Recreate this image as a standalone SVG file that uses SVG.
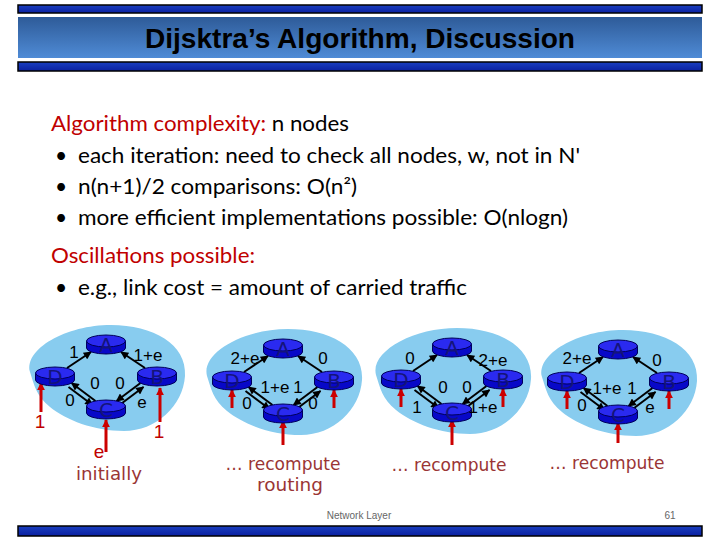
<svg xmlns="http://www.w3.org/2000/svg" xmlns:xlink="http://www.w3.org/1999/xlink" width="720" height="540" viewBox="0 0 720 540">
<style>
.body{font-family:Lato,"Open Sans","Liberation Sans",sans-serif;font-size:21px;fill:#000}
.red{fill:#c00000}
.title{font-family:"Liberation Sans",Arial,sans-serif;font-weight:bold;font-size:28px;fill:#000}
.lbl{font-family:"Liberation Sans",Arial,sans-serif;font-size:17px;fill:#000;text-anchor:middle}
.nl{font-family:"DejaVu Sans",sans-serif;font-size:20px;fill:#14147a;text-anchor:middle}
.cap{font-family:"DejaVu Sans",sans-serif;font-size:18px;fill:#9a3535;text-anchor:middle}
.rl{font-family:"Liberation Sans",Arial,sans-serif;font-size:19px;fill:#c00000;text-anchor:middle}
.edge{stroke:#000;stroke-width:2;fill:none;marker-end:url(#ah)}
.red-arr{stroke:#cc0000;stroke-width:3;fill:none;marker-end:url(#rah)}
.blob{fill:#88ccef}
.foot{font-family:"Liberation Sans",Arial,sans-serif;font-size:10px;fill:#666}
</style>
<defs>
<linearGradient id="tg" x1="0" y1="0" x2="0" y2="1">
<stop offset="0" stop-color="#2e5b98"/>
<stop offset="1" stop-color="#4f8bd6"/>
</linearGradient>
<linearGradient id="bar" x1="0" y1="0" x2="0" y2="1">
<stop offset="0" stop-color="#1a3fc0"/>
<stop offset="1" stop-color="#0a20a0"/>
</linearGradient>
<marker id="ah" viewBox="0 0 10 10" refX="9" refY="5" markerUnits="userSpaceOnUse" markerWidth="9" markerHeight="8" orient="auto">
<path d="M0,0 L10,5 L0,10 Z" fill="#000"/>
</marker>
<marker id="rah" viewBox="0 0 10 10" refX="9" refY="5" markerUnits="userSpaceOnUse" markerWidth="8" markerHeight="8" orient="auto">
<path d="M0,0 L10,5 L0,10 Z" fill="#cc0000"/>
</marker>
<g id="router">
<path d="M-19.5,-3 V4 A19.5,6 0 0 0 19.5,4 V-3 Z" fill="#0808c8" stroke="#00005a" stroke-width="1"/>
<ellipse cx="0" cy="-3" rx="19.5" ry="6" fill="#2a2af0" stroke="#00005a" stroke-width="1"/>
</g>
<path id="blobshape" d="M-76,28 C-82,5 -40,-19 5,-19 C47,-19 81,0 79,32 C77,62 50,87 18,87 C-12,87 -40,76 -56,63 C-70,52 -72,40 -76,28 Z"/>
<g id="edges">
<line x1="-39" y1="24" x2="-15" y2="8"/>
<line x1="39" y1="24" x2="15" y2="8"/>
<line x1="-10.5" y1="57" x2="-34.5" y2="39"/>
<line x1="-37.5" y1="43" x2="-13.5" y2="61"/>
<line x1="34.5" y1="39" x2="10.5" y2="57"/>
<line x1="13.5" y1="61" x2="37.5" y2="43"/>
</g>
</defs>

<g id="header">
<rect x="18" y="5" width="684" height="8" fill="url(#bar)" stroke="#000" stroke-width="1.5"/>
<rect x="18" y="17" width="684" height="41" fill="url(#tg)"/>
<rect x="18" y="62" width="684" height="9" fill="url(#bar)" stroke="#000" stroke-width="1.5"/>
<text class="title" x="360" y="48" text-anchor="middle" textLength="430" lengthAdjust="spacingAndGlyphs">Dijsktra’s Algorithm, Discussion</text>
</g>

<g id="bodytext">
<text class="body" x="51" y="131" textLength="298" lengthAdjust="spacingAndGlyphs"><tspan class="red">Algorithm complexity:</tspan> n nodes</text>
<text class="body" x="55" y="163">•</text>
<text class="body" x="78" y="163" textLength="502" lengthAdjust="spacingAndGlyphs">each iteration: need to check all nodes, w, not in N'</text>
<text class="body" x="55" y="194">•</text>
<text class="body" x="78" y="194" textLength="279" lengthAdjust="spacingAndGlyphs">n(n+1)/2 comparisons: O(n²)</text>
<text class="body" x="55" y="225">•</text>
<text class="body" x="78" y="225" textLength="490" lengthAdjust="spacingAndGlyphs">more efficient implementations possible: O(nlogn)</text>
<text class="body red" x="51" y="263" textLength="204" lengthAdjust="spacingAndGlyphs">Oscillations possible:</text>
<text class="body" x="55" y="295">•</text>
<text class="body" x="78" y="295" textLength="389" lengthAdjust="spacingAndGlyphs">e.g., link cost = amount of carried traffic</text>
</g>

<!-- Graph 1 -->
<g id="graph1" transform="translate(106,344)">
<use href="#blobshape" class="blob"/>
<g id="g1-connectors">
<use href="#edges" class="edge"/>
<line class="red-arr" x1="-65" y1="68" x2="-65" y2="39"/>
<line class="red-arr" x1="54" y1="78" x2="54" y2="44"/>
<line class="red-arr" x1="0" y1="108" x2="0" y2="76"/>
</g>
<g id="g1-A"><use href="#router"/><text class="nl" y="8">A</text></g>
<g id="g1-D" transform="translate(-51,32)"><use href="#router"/><text class="nl" y="8">D</text></g>
<g id="g1-B" transform="translate(51,32)"><use href="#router"/><text class="nl" y="8">B</text></g>
<g id="g1-C" transform="translate(0,65)"><use href="#router"/><text class="nl" y="8">C</text></g>
<g id="g1-labels">
<text class="lbl" x="-32" y="14">1</text>
<text class="lbl" x="42" y="17">1+e</text>
<text class="lbl" x="-11" y="45">0</text>
<text class="lbl" x="14" y="45">0</text>
<text class="lbl" x="-36" y="62">0</text>
<text class="lbl" x="36" y="64">e</text>
<text class="rl" x="-66" y="84">1</text>
<text class="rl" x="53" y="94">1</text>
<text class="rl" x="-7" y="114">e</text>
</g>
</g>
<text class="cap" x="109" y="480" textLength="66" lengthAdjust="spacingAndGlyphs">initially</text>

<!-- Graph 2 -->
<g id="graph2" transform="translate(283,348)">
<use href="#blobshape" class="blob"/>
<g id="g2-connectors">
<use href="#edges" class="edge"/>
<line class="red-arr" x1="-51" y1="60" x2="-51" y2="42"/>
<line class="red-arr" x1="51" y1="60" x2="51" y2="42"/>
<line class="red-arr" x1="0" y1="97" x2="0" y2="73"/>
</g>
<g id="g2-A"><use href="#router"/><text class="nl" y="8">A</text></g>
<g id="g2-D" transform="translate(-51,32)"><use href="#router"/><text class="nl" y="8">D</text></g>
<g id="g2-B" transform="translate(51,32)"><use href="#router"/><text class="nl" y="8">B</text></g>
<g id="g2-C" transform="translate(0,65)"><use href="#router"/><text class="nl" y="8">C</text></g>
<g id="g2-labels">
<text class="lbl" x="-38" y="16">2+e</text>
<text class="lbl" x="40" y="16">0</text>
<text class="lbl" x="-8" y="45">1+e</text>
<text class="lbl" x="15" y="45">1</text>
<text class="lbl" x="-36" y="61">0</text>
<text class="lbl" x="30" y="61">0</text>
</g>
</g>
<text class="cap" x="283" y="470" textLength="115" lengthAdjust="spacingAndGlyphs">… recompute</text>
<text class="cap" x="290" y="491" textLength="66" lengthAdjust="spacingAndGlyphs">routing</text>

<!-- Graph 3 -->
<g id="graph3" transform="translate(452,347)">
<use href="#blobshape" class="blob"/>
<g id="g3-connectors">
<use href="#edges" class="edge"/>
<line class="red-arr" x1="-51" y1="60" x2="-51" y2="42"/>
<line class="red-arr" x1="51" y1="60" x2="51" y2="42"/>
<line class="red-arr" x1="0" y1="98" x2="0" y2="73"/>
</g>
<g id="g3-A"><use href="#router"/><text class="nl" y="8">A</text></g>
<g id="g3-D" transform="translate(-51,32)"><use href="#router"/><text class="nl" y="8">D</text></g>
<g id="g3-B" transform="translate(51,32)"><use href="#router"/><text class="nl" y="8">B</text></g>
<g id="g3-C" transform="translate(0,65)"><use href="#router"/><text class="nl" y="8">C</text></g>
<g id="g3-labels">
<text class="lbl" x="-42" y="17">0</text>
<text class="lbl" x="41" y="19">2+e</text>
<text class="lbl" x="-9" y="46">0</text>
<text class="lbl" x="15" y="46">0</text>
<text class="lbl" x="-35" y="66">1</text>
<text class="lbl" x="31" y="66">1+e</text>
</g>
</g>
<text class="cap" x="449" y="471" textLength="115" lengthAdjust="spacingAndGlyphs">… recompute</text>

<!-- Graph 4 -->
<g id="graph4" transform="translate(618,349)">
<use href="#blobshape" class="blob"/>
<g id="g4-connectors">
<use href="#edges" class="edge"/>
<line class="red-arr" x1="-51" y1="60" x2="-51" y2="42"/>
<line class="red-arr" x1="51" y1="60" x2="51" y2="42"/>
<line class="red-arr" x1="0" y1="94" x2="0" y2="74"/>
</g>
<g id="g4-A"><use href="#router"/><text class="nl" y="8">A</text></g>
<g id="g4-D" transform="translate(-51,32)"><use href="#router"/><text class="nl" y="8">D</text></g>
<g id="g4-B" transform="translate(51,32)"><use href="#router"/><text class="nl" y="8">B</text></g>
<g id="g4-C" transform="translate(0,65)"><use href="#router"/><text class="nl" y="8">C</text></g>
<g id="g4-labels">
<text class="lbl" x="-41" y="15">2+e</text>
<text class="lbl" x="39" y="17">0</text>
<text class="lbl" x="-11" y="45">1+e</text>
<text class="lbl" x="14" y="45">1</text>
<text class="lbl" x="-36" y="62">0</text>
<text class="lbl" x="32" y="64">e</text>
</g>
</g>
<text class="cap" x="607" y="469" textLength="115" lengthAdjust="spacingAndGlyphs">… recompute</text>

<g id="footer">
<text class="foot" x="359" y="519" text-anchor="middle">Network Layer</text>
<text class="foot" x="670" y="519" text-anchor="middle">61</text>
<rect x="18" y="526" width="684" height="10" fill="url(#bar)" stroke="#000" stroke-width="1.5"/>
</g>
</svg>
